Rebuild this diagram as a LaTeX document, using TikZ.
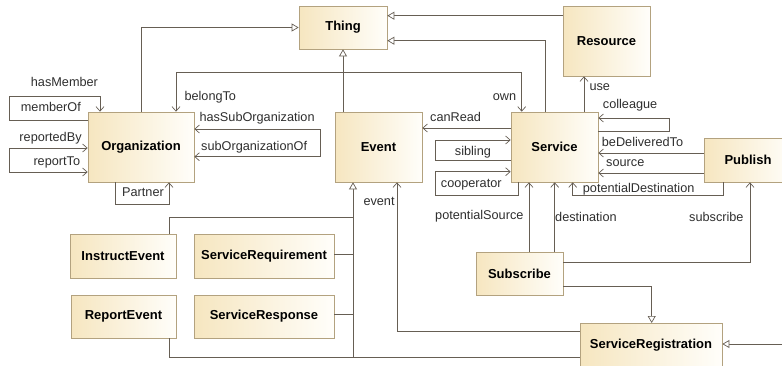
\documentclass[tikz,border=0pt]{standalone}
\usepackage{fontspec}
\setmainfont{Liberation Sans}
\usetikzlibrary{arrows.meta}
\definecolor{boxL}{HTML}{F6E6C0}
\definecolor{boxR}{HTML}{FFFEFA}
\definecolor{boxB}{HTML}{B3A27F}
\definecolor{lineC}{HTML}{665E54}
\definecolor{lblC}{HTML}{2E2E2E}
\tikzset{
  cls/.style={draw=boxB, line width=0.7pt, left color=boxL, right color=boxR,
    font=\fontsize{13}{15}\selectfont\bfseries, text=black, inner sep=0pt},
  conn/.style={draw=lineC, line width=0.8pt},
  assoc/.style={conn, -{Straight Barb[length=4.5pt,width=8pt,line width=0.7pt]}},
  assocboth/.style={conn, {Straight Barb[length=4.5pt,width=8pt,line width=0.7pt]}-{Straight Barb[length=4.5pt,width=8pt,line width=0.7pt]}},
  gen/.style={conn, -{Triangle[open,length=7pt,width=8pt,fill=white,line width=0.7pt]}},
  lbl/.style={anchor=base west, inner sep=0pt, font=\fontsize{12.7}{15}\selectfont, text=lblC}
}
\begin{document}
\begin{tikzpicture}[x=1pt,y=-1pt]
\useasboundingbox (0,0) rectangle (782,365);
\clip (0,0) rectangle (782,365);
% classes
\node[cls, minimum width=88pt, minimum height=43pt] (thing) at (343,27.5) {Thing};
\node[cls, minimum width=87pt, minimum height=70pt] (res) at (606.5,41) {Resource};
\node[cls, minimum width=106pt, minimum height=70pt] (org) at (141,147) {Organization};
\node[cls, minimum width=87pt, minimum height=70pt] (event) at (378.5,147) {Event};
\node[cls, minimum width=87pt, minimum height=70pt] (serv) at (554.5,147) {Service};
\node[cls, minimum width=88pt, minimum height=44pt] (pub) at (748,160) {Publish};
\node[cls, minimum width=106pt, minimum height=44pt] (instev) at (123,256) {InstructEvent};
\node[cls, minimum width=140pt, minimum height=44pt] (sreq) at (264,256) {ServiceRequirement};
\node[cls, minimum width=105pt, minimum height=43pt] (repev) at (123.5,316.5) {ReportEvent};
\node[cls, minimum width=140pt, minimum height=43pt] (sresp) at (264,316.5) {ServiceResponse};
\node[cls, minimum width=87pt, minimum height=43pt] (subs) at (519.5,273.5) {Subscribe};
\node[cls, minimum width=142pt, text height=25pt, text depth=20pt, anchor=north] (srreg) at (651,323) {ServiceRegistration};
\coordinate (evbus) at (353,357);
\coordinate (rightin) at (786,344);
% generalizations to Thing
\draw[gen] (org.north) |- (thing.west);
\draw[gen] (event.north -| thing.south) -- (thing.south);
\draw[gen] (res.west |- 0,15.7) -- (thing.east |- 0,15.7);
\draw[gen] (serv.north -| 545.7,0) |- (thing.east |- 0,40.7);
% event hierarchy
\draw[gen] (srreg.west |- evbus) -- (evbus) -- (event.south -| evbus);
\draw[conn] (repev.south -| 169,0) |- (evbus);
\draw[conn] (instev.north -| 169,0) |- (evbus |- 0,217);
\draw[conn] (sreq.east |- 0,254) -- (evbus |- 0,254);
\draw[conn] (sresp.east |- 0,314) -- (evbus |- 0,314);
\draw[gen] (subs.east |- 0,286.7) -| (srreg.north -| 651.7,0);
\draw[gen] (rightin) -- (srreg.east |- rightin);
% organization associations
\draw[assocboth] (org.north -| 176,0) -- ++(0,-39) -| (serv.north -| 521.7,0);
\draw[assoc] (org.west |- 0,120) -| (9.3,96) -| (org.north -| 100,0);
\draw[assocboth] (org.west |- 0,148) -| (9.3,172) -- (org.west |- 0,172);
\draw[assocboth] (org.east |- 0,129) -| (320.7,156.7) -- (org.east |- 0,156.7);
\draw[assoc] (org.south -| 115,0) |- (169,204) -- (org.south -| 169,0);
% service associations
\draw[assoc] (srreg.west |- 0,331) -| (event.south -| 397,0);
\draw[assoc] (serv.west |- 0,128) -- (event.east |- 0,128);
\draw[assoc] (serv.west |- 0,160) -| (435,140) -- (serv.west |- 0,140);
\draw[assoc] (serv.south -| 518,0) |- (435,195) |- (serv.west |- 0,171.7);
\draw[assoc] (serv.east |- 0,131.7) -| (669,118) -- (serv.east |- 0,118);
\draw[assoc] (serv.north -| 584,0) -- (res.south -| 584,0);
\draw[assoc] (pub.west |- 0,153) -- (serv.east |- 0,153);
\draw[assoc] (pub.west |- 0,173) -- (serv.east |- 0,173);
\draw[assoc] (pub.south -| 723,0) |- (572.7,195) -- (serv.south -| 572.7,0);
\draw[assoc] (subs.north -| 529,0) -- (serv.south -| 529,0);
\draw[assoc] (subs.north -| 554.7,0) -- (serv.south -| 554.7,0);
\draw[assoc] (subs.east |- 0,262) -| (pub.south -| 750,0);
% labels
\node[lbl] (l1) at (30.7,86) {hasMember};
\node[lbl] (l2) at (20.7,111.7) {memberOf};
\node[lbl] (l3) at (19.3,141.7) {reportedBy};
\node[lbl] (l4) at (33.3,165.7) {reportTo};
\node[lbl] (l5) at (184.3,100) {belongTo};
\node[lbl] (l6) at (199.3,121.7) {hasSubOrganization};
\node[lbl] (l7) at (201,150) {subOrganizationOf};
\node[lbl] (l8) at (122,196) {Partner};
\node[lbl] (l9) at (363.3,205) {event};
\node[lbl] (l10) at (430,121.7) {canRead};
\node[lbl] (l11) at (492.7,100.7) {own};
\node[lbl] (l12) at (589.3,90.7) {use};
\node[lbl] (l13) at (602.7,108.7) {colleague};
\node[lbl] (l14) at (454.7,155) {sibling};
\node[lbl] (l15) at (601.7,146) {beDeliveredTo};
\node[lbl] (l16) at (606,166.7) {source};
\node[lbl] (l17) at (440.7,187.3) {cooperator};
\node[lbl] (l18) at (582.7,192.7) {potentialDestination};
\node[lbl] (l19) at (435,219) {potentialSource};
\node[lbl] (l20) at (555,221) {destination};
\node[lbl] (l21) at (689,221) {subscribe};
\end{tikzpicture}
\end{document}
